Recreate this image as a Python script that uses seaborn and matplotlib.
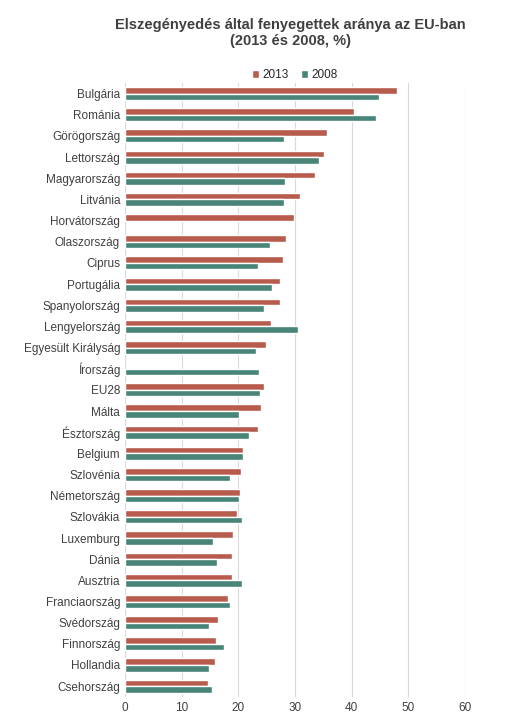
import matplotlib
matplotlib.use("Agg")
import matplotlib.pyplot as plt
import numpy as np
import pandas as pd
import seaborn as sns

countries = ["Bulgária", "Románia", "Görögország", "Lettország", "Magyarország", "Litvánia",
             "Horvátország", "Olaszország", "Ciprus", "Portugália", "Spanyolország",
             "Lengyelország", "Egyesült Királyság", "Írország", "EU28", "Málta", "Észtország",
             "Belgium", "Szlovénia", "Németország", "Szlovákia", "Luxemburg", "Dánia",
             "Ausztria", "Franciaország", "Svédország", "Finnország", "Hollandia", "Csehország"]
v2013 = [48.0, 40.4, 35.7, 35.1, 33.5, 30.8, 29.9, 28.4, 27.8, 27.4, 27.3, 25.8, 24.8,
         np.nan, 24.5, 24.0, 23.5, 20.8, 20.4, 20.3, 19.8, 19.0, 18.9, 18.8, 18.1, 16.4,
         16.0, 15.9, 14.6]
v2008 = [44.8, 44.2, 28.1, 34.2, 28.2, 28.0, np.nan, 25.5, 23.4, 26.0, 24.5, 30.5, 23.2,
         23.7, 23.8, 20.1, 21.8, 20.8, 18.5, 20.1, 20.6, 15.5, 16.3, 20.6, 18.6, 14.9,
         17.4, 14.9, 15.3]

df = pd.DataFrame({"orszag": countries * 2,
                   "ertek": v2013 + v2008,
                   "ev": ["2013"] * len(countries) + ["2008"] * len(countries)})

sns.set_theme(style="white")
plt.rcParams["font.family"] = ["Liberation Sans", "DejaVu Sans"]

fig, ax = plt.subplots(figsize=(5.10, 7.22), dpi=100)
sns.barplot(data=df, y="orszag", x="ertek", hue="ev", orient="h",
            palette={"2013": "#C9503A", "2008": "#3E8E7C"}, width=0.62,
            ax=ax, legend=True)
ax.set_xlim(0, 60)
ax.set_xticks(range(0, 61, 10))
ax.xaxis.grid(True, color="#D9D9D9", linewidth=0.8)
ax.set_axisbelow(True)
for s in ax.spines.values():
    s.set_visible(False)
ax.set_xlabel("")
ax.set_ylabel("")
ax.tick_params(axis="both", labelsize=8.5, colors="#404040", length=0)
fig.suptitle("Elszegényedés által fenyegettek aránya az EU-ban\n(2013 és 2008, %)",
             x=0.57, y=0.975, fontsize=10.5, fontweight="bold", color="#404040")
ax.legend(loc="upper center", bbox_to_anchor=(0.5, 1.04), ncol=2, frameon=False,
          fontsize=8.5, handlelength=0.6, handleheight=0.6, columnspacing=1.0,
          handletextpad=0.3)
fig.subplots_adjust(left=0.245, right=0.912, top=0.885, bottom=0.035)
fig.savefig("out.png", dpi=100)
